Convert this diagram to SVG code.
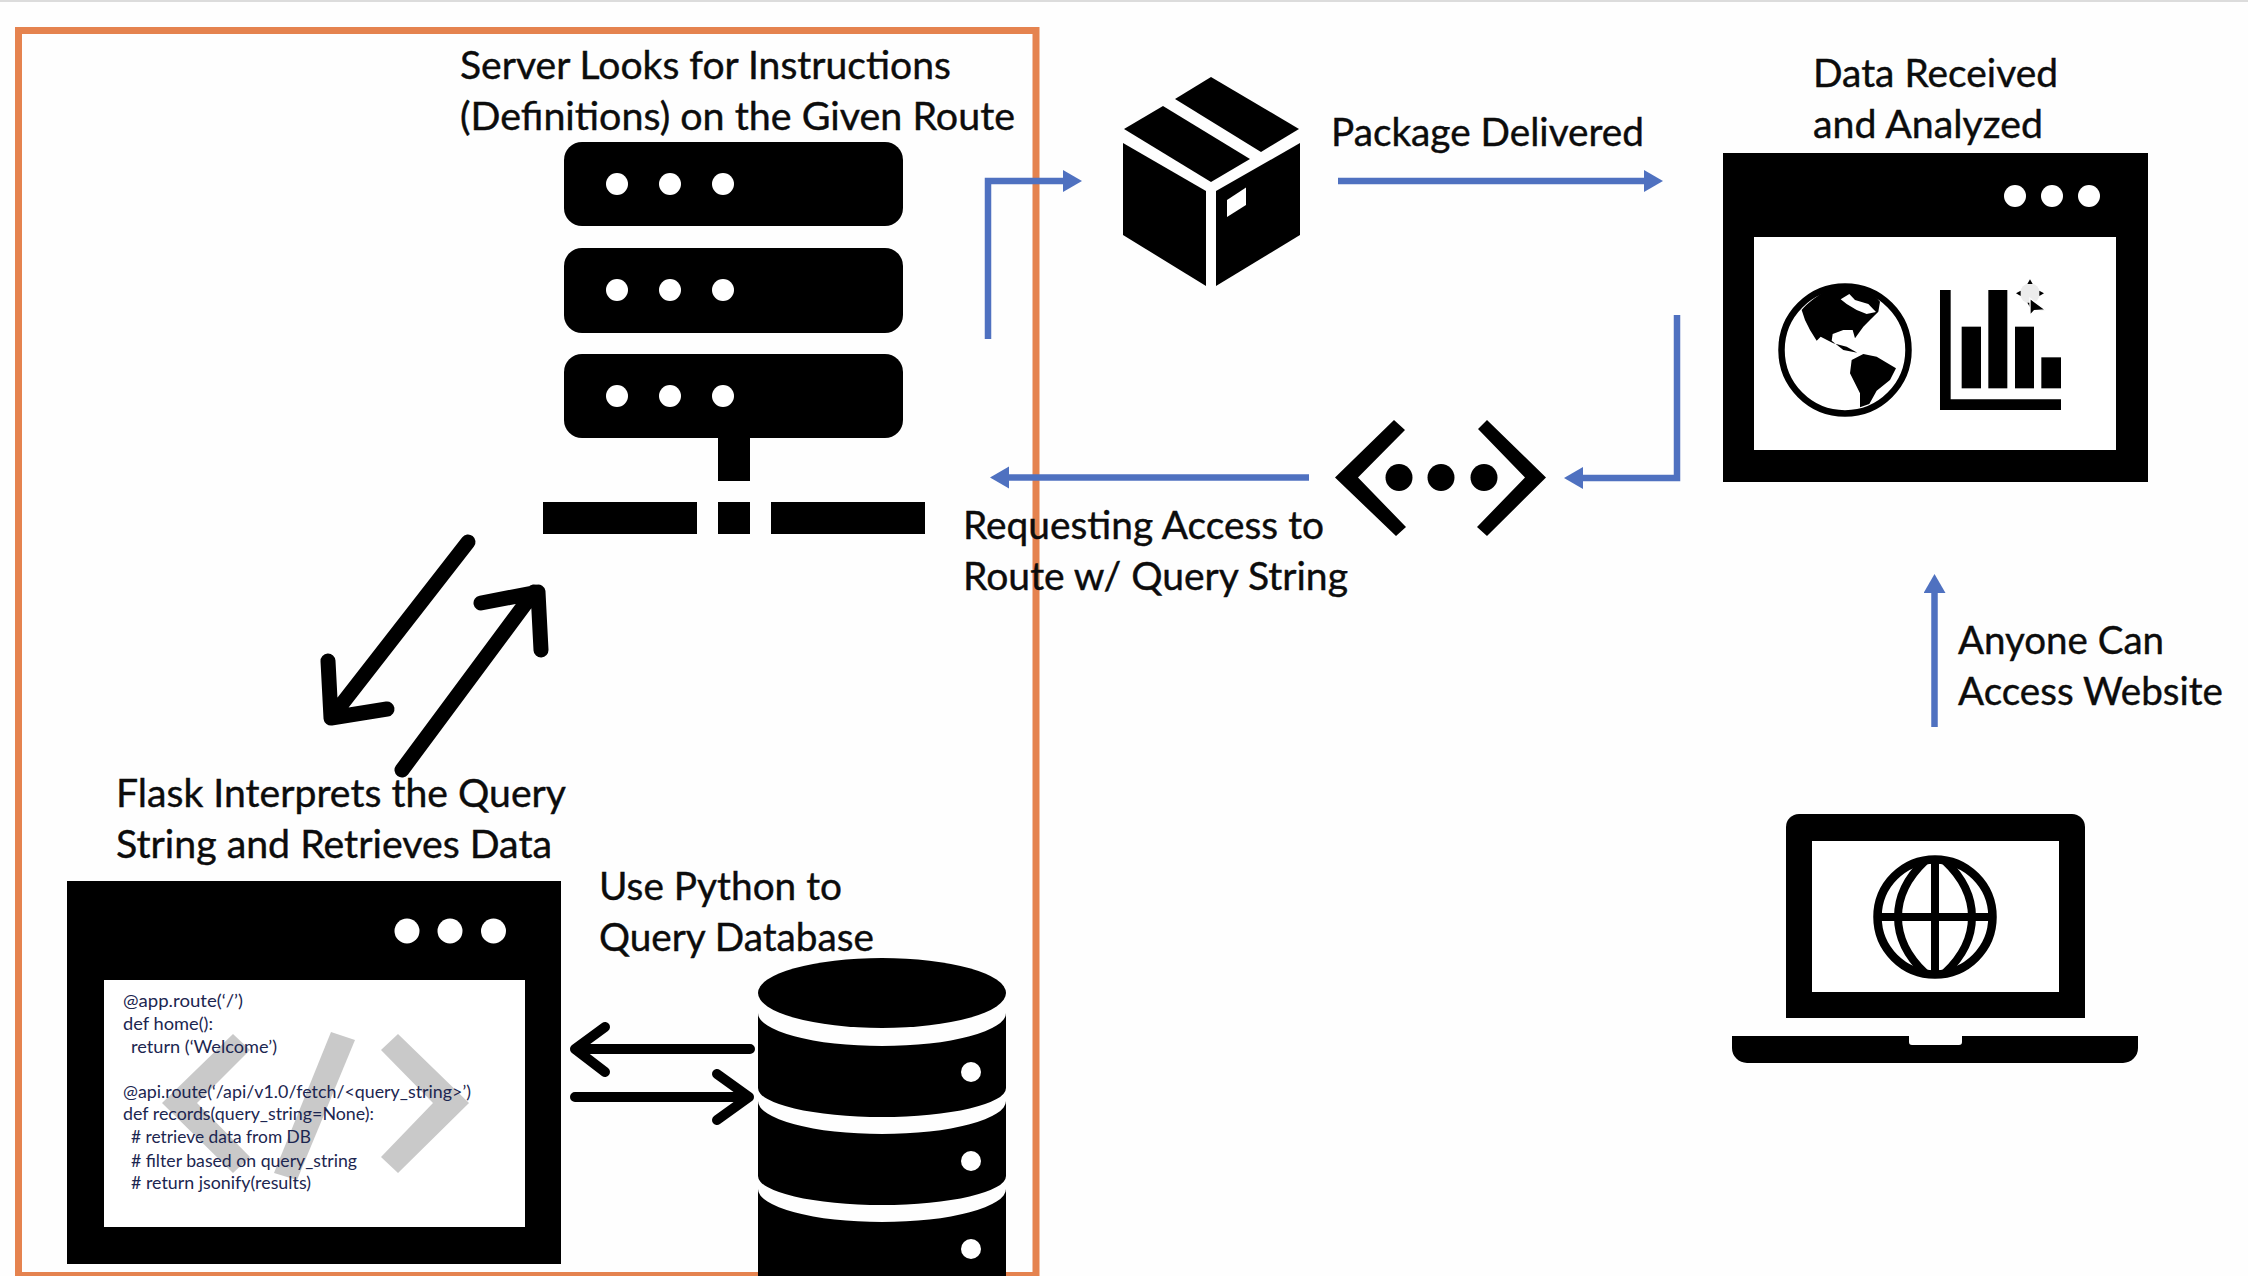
<svg xmlns="http://www.w3.org/2000/svg" width="2248" height="1276" viewBox="0 0 2248 1276">
<defs>
<style>
.k{fill:#000}
.w{fill:#fff}
.t{font-family:Lato,"Open Sans","Liberation Sans",sans-serif;font-size:38px;fill:#0c0c0c;stroke:#0c0c0c;stroke-width:.4}
.c{font-family:Lato,"Open Sans","Liberation Sans",sans-serif;font-size:17.5px;fill:#1c2650}
.b{fill:none;stroke:#4f71c0;stroke-width:6.500}
.a{fill:none;stroke:#000;stroke-linecap:round;stroke-linejoin:round}
.g{fill:#c9c9c9}
</style>
<marker id="h" markerUnits="userSpaceOnUse" markerWidth="20" markerHeight="24" refX="0" refY="11" orient="auto"><path d="M0,0L19,11L0,22Z" fill="#4f71c0"/></marker>
</defs>
<rect width="2248" height="1276" fill="#fefefe"/>
<rect width="2248" height="2" fill="#dcdcdc"/>
<rect id="frame" x="18.5" y="30.5" width="1017.5" height="1245" fill="none" stroke="#e5834f" stroke-width="7"/>

<g id="server">
<rect class="k" x="564" y="142" width="339" height="84" rx="18"/>
<rect class="k" x="564" y="248" width="339" height="85" rx="18"/>
<rect class="k" x="564" y="354" width="339" height="84" rx="18"/>
<circle class="w" cx="617" cy="184" r="11"/><circle class="w" cx="670" cy="184" r="11"/><circle class="w" cx="723" cy="184" r="11"/>
<circle class="w" cx="617" cy="290" r="11"/><circle class="w" cx="670" cy="290" r="11"/><circle class="w" cx="723" cy="290" r="11"/>
<circle class="w" cx="617" cy="396" r="11"/><circle class="w" cx="670" cy="396" r="11"/><circle class="w" cx="723" cy="396" r="11"/>
<rect class="k" x="718" y="438" width="32" height="43"/>
<rect class="k" x="543" y="502" width="154" height="32"/>
<rect class="k" x="718" y="502" width="32" height="32"/>
<rect class="k" x="771" y="502" width="154" height="32"/>
<text class="t" x="460" y="79" textLength="491" lengthAdjust="spacingAndGlyphs">Server Looks for Instructions</text>
<text class="t" x="460" y="130" textLength="555" lengthAdjust="spacingAndGlyphs">(Definitions) on the Given Route</text>
</g>

<g id="package">
<path class="k" d="M1211,77L1299,129L1261,152L1175,99Z"/>
<path class="k" d="M1163,106L1250,159L1211,182L1124,129Z"/>
<path class="k" d="M1123,143L1206,191V286L1123,235Z"/>
<path class="k" d="M1300,143L1216,191V286L1300,235Z"/>
<path class="w" d="M1246,187.500L1227,200V217L1246,205Z"/>
<text class="t" x="1331" y="146" textLength="313" lengthAdjust="spacingAndGlyphs">Package Delivered</text>
</g>

<g id="dashboard">
<rect class="k" x="1723" y="153" width="425" height="329"/>
<rect class="w" x="1754" y="237" width="362" height="213"/>
<circle class="w" cx="2015" cy="196" r="11"/><circle class="w" cx="2052" cy="196" r="11"/><circle class="w" cx="2089" cy="196" r="11"/>
<circle cx="1845" cy="350" r="63.500" fill="#fff" stroke="#000" stroke-width="6.500"/>
<g transform="translate(1700,130) scale(.33333)">
<path class="k" d="M305,540C340,500 400,465 440,465C480,465 520,490 540,515L535,545L510,570L490,590L465,625L458,600L430,600L398,612L395,632L430,660L472,668L440,650L400,640L362,620L350,632L330,600L315,570Z"/>
<path class="w" d="M422,508L448,492L465,510L505,522L528,546L500,552L470,540L440,522Z"/>
<path class="k" d="M455,690L490,672L530,680L588,715L570,750L530,782L508,822L480,832L480,790L450,730Z"/>
<path class="k" d="M720,480H752V808H1083V840H720Z"/>
<rect class="k" x="785" y="590" width="58" height="185"/>
<rect class="k" x="865" y="480" width="57" height="295"/>
<rect class="k" x="945" y="590" width="57" height="185"/>
<rect class="k" x="1024" y="682" width="59" height="93"/>
<circle cx="990" cy="490" r="30" fill="#ececec"/>
<path class="k" d="M990,448L998,462H982ZM990,532L982,518H998ZM948,490L962,482V498ZM1032,490L1018,498V482Z"/>
<path class="k" stroke="#fff" stroke-width="4" d="M990,505V556L1003,542L1037,540Z"/>
</g>
<text class="t" x="1813" y="87" textLength="245" lengthAdjust="spacingAndGlyphs">Data Received</text>
<text class="t" x="1813" y="138" textLength="230" lengthAdjust="spacingAndGlyphs">and Analyzed</text>
</g>

<g id="network">
<path class="k" d="M1394,420L1405,430L1358,477.500L1406,527L1396,536L1335,477.500Z"/>
<path class="k" d="M1487,420L1478,429L1525,477.500L1477,527L1487,536L1546,477.500Z"/>
<circle class="k" cx="1399" cy="477.500" r="13.500"/><circle class="k" cx="1441" cy="477.500" r="13.500"/><circle class="k" cx="1484" cy="477.500" r="13.500"/>
<text class="t" x="963" y="539" textLength="361" lengthAdjust="spacingAndGlyphs">Requesting Access to</text>
<text class="t" x="963" y="590" textLength="385" lengthAdjust="spacingAndGlyphs">Route w/ Query String</text>
</g>

<g id="laptop">
<path class="k" d="M1786,1018V827A13,13 0 0 1 1799,814H2072A13,13 0 0 1 2085,827V1018Z"/>
<rect class="w" x="1812" y="841" width="247" height="151"/>
<g fill="none" stroke="#000" stroke-width="8.500">
<circle cx="1935" cy="917" r="57.500"/>
<path stroke-width="8" d="M1935,860V974M1878,917H1992M1925,861C1889,895 1889,939 1925,973M1945,861C1981,895 1981,939 1945,973"/>
</g>
<path class="k" d="M1732,1036H1909V1042Q1909,1045 1912,1045H1959Q1962,1045 1962,1042V1036H2138V1048A15,15 0 0 1 2123,1063H1747A15,15 0 0 1 1732,1048Z"/>
<text class="t" x="1958" y="654" textLength="206" lengthAdjust="spacingAndGlyphs">Anyone Can</text>
<text class="t" x="1958" y="705" textLength="265" lengthAdjust="spacingAndGlyphs">Access Website</text>
</g>

<g id="flask">
<rect class="k" x="67" y="881" width="494" height="383"/>
<rect class="w" x="104" y="980" width="421" height="247"/>
<circle class="w" cx="407" cy="931" r="12.500"/><circle class="w" cx="450" cy="931" r="12.500"/><circle class="w" cx="493.500" cy="931" r="12.500"/>
<path class="g" d="M381,1050L398,1034L469,1103L398,1173L381,1157L433,1103Z"/>
<path class="g" d="M250,1050L233,1034L162,1103L233,1173L250,1157L197,1103Z"/>
<path class="g" d="M331,1032L355,1040L297,1180L274,1173Z"/>
<text class="c" x="123" y="1007" textLength="120" lengthAdjust="spacingAndGlyphs">@app.route(‘/’)</text>
<text class="c" x="123" y="1030" textLength="90" lengthAdjust="spacingAndGlyphs">def home():</text>
<text class="c" x="131" y="1053" textLength="146" lengthAdjust="spacingAndGlyphs">return (‘Welcome’)</text>
<text class="c" x="123" y="1098" textLength="348" lengthAdjust="spacingAndGlyphs">@api.route(‘/api/v1.0/fetch/&lt;query_string&gt;’)</text>
<text class="c" x="123" y="1120" textLength="251" lengthAdjust="spacingAndGlyphs">def records(query_string=None):</text>
<text class="c" x="131" y="1143" textLength="180" lengthAdjust="spacingAndGlyphs"># retrieve data from DB</text>
<text class="c" x="131" y="1167" textLength="226" lengthAdjust="spacingAndGlyphs"># filter based on query_string</text>
<text class="c" x="131" y="1189" textLength="180" lengthAdjust="spacingAndGlyphs"># return jsonify(results)</text>
<text class="t" x="116" y="807" textLength="450" lengthAdjust="spacingAndGlyphs">Flask Interprets the Query</text>
<text class="t" x="116" y="858" textLength="436" lengthAdjust="spacingAndGlyphs">String and Retrieves Data</text>
</g>

<g id="database">
<ellipse class="k" cx="882" cy="993" rx="124" ry="35"/>
<path class="k" d="M758,1013A124,33 0 0 0 1006,1013V1088A124,29 0 0 1 758,1088Z"/>
<path class="k" d="M758,1101A124,33 0 0 0 1006,1101V1176A124,29 0 0 1 758,1176Z"/>
<path class="k" d="M758,1189A124,33 0 0 0 1006,1189V1276H758Z"/>
<circle class="w" cx="971" cy="1072" r="10"/><circle class="w" cx="971" cy="1161" r="10"/><circle class="w" cx="971" cy="1249" r="10"/>
<text class="t" x="599" y="900" textLength="243" lengthAdjust="spacingAndGlyphs">Use Python to</text>
<text class="t" x="599" y="951" textLength="275" lengthAdjust="spacingAndGlyphs">Query Database</text>
</g>

<g id="connectors">
<path class="b" d="M988,339V181H1063" marker-end="url(#h)"/>
<path class="b" d="M1338,181H1644" marker-end="url(#h)"/>
<path class="b" d="M1677,315V478H1583" marker-end="url(#h)"/>
<path class="b" d="M1309,477.500H1009" marker-end="url(#h)"/>
<path class="b" d="M1934.500,727V593" marker-end="url(#h)"/>
<g class="a" stroke-width="15">
<path d="M468,542L331,718M328,661L331,718L387,709"/>
<path d="M402,770L534,592M481,603L538,592L541,650"/>
</g>
<g class="a" stroke-width="10">
<path d="M750,1049H575M605,1027L575,1049L605,1072"/>
<path d="M575,1097H749M717,1074L749,1097L717,1120"/>
</g>
</g>
</svg>
